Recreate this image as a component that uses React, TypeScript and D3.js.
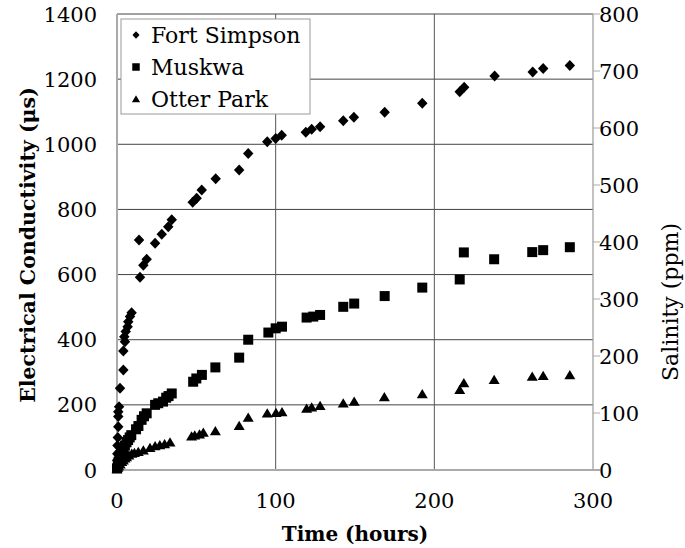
import React from "react";
import * as d3 from "d3";

// Time (hours) vs electrical conductivity (µs) for each sample
const fortSimpson: [number, number][] = [
  [0, 10], [0.1, 30], [0.2, 50], [0.3, 75], [0.5, 100], [0.8, 133], [0.8, 164], [0.8, 179],
  [1.3, 194], [1.9, 251], [4, 307], [4, 365], [5, 394], [4.6, 409], [5.5, 425], [6.7, 440],
  [7.1, 455], [8.2, 471], [9.2, 483], [13.9, 706], [14.5, 592], [16.6, 629], [18.7, 647],
  [24, 696], [28.2, 724], [32.3, 747], [34.5, 768], [47.7, 822], [50.2, 834], [53.4, 860],
  [62.2, 894], [77, 921], [82.7, 972], [94.7, 1008], [100, 1018], [103.8, 1028], [119, 1037],
  [122.7, 1046], [128, 1054], [142.6, 1072], [149.3, 1083], [168.7, 1098], [192.4, 1126],
  [216, 1161], [218.8, 1175], [238, 1210], [262, 1222], [268.6, 1233], [285.4, 1242],
];

const muskwa: [number, number][] = [
  [0, 5], [0.5, 15], [1, 25], [1.5, 35], [2, 45], [3, 55], [4, 65], [5, 75], [6, 85], [7, 92],
  [8, 100], [9, 107], [12, 125], [13.5, 135], [15.5, 154], [17, 165], [18.7, 174], [24, 200],
  [26, 205], [29, 210], [31, 222], [32.5, 227], [34.5, 235], [48, 271], [50, 281], [53.5, 292],
  [62, 315], [77, 345], [82.7, 400], [95.4, 422], [100, 435], [104, 440], [119.5, 468],
  [123.7, 471], [128, 476], [142.6, 501], [149.5, 511], [168.7, 534], [192.4, 560], [216, 585],
  [218.6, 668], [237.7, 647], [261.7, 669], [268.6, 675], [285.4, 684],
];

const otterPark: [number, number][] = [
  [0, 3], [0.5, 8], [1, 12], [2, 18], [3, 25], [4, 30], [5, 36], [6, 40], [7.5, 45], [9.3, 51],
  [11, 53], [13.4, 56], [16.6, 61], [20.8, 68], [24, 74], [27, 77], [30, 80], [33.4, 85],
  [47, 104], [49, 107], [52, 110], [54.4, 115], [62, 120], [77, 136], [82.7, 161], [94.7, 174],
  [100.2, 176], [104, 178], [119.5, 189], [122.7, 193], [128, 197], [142.6, 205], [149.5, 210],
  [168.5, 224], [192.4, 233], [216, 246], [218.6, 267], [237.7, 277], [261.7, 287],
  [268.6, 289], [285.4, 292],
];

const seriesNames = ["Fort Simpson", "Muskwa", "Otter Park"];
const xTicks = [0, 100, 200, 300];
const leftTicks = [0, 200, 400, 600, 800, 1000, 1200, 1400];
const rightTicks = [0, 100, 200, 300, 400, 500, 600, 700, 800];

const W = 685;
const H = 548;
const FONT = "'DejaVu Serif', 'Liberation Serif', serif";

type Shape = "diamond" | "square" | "triangle";

function markerPath(shape: Shape, s: number): string {
  const h = s / 2;
  if (shape === "diamond") return `M0,${-h}L${h * 0.95},0L0,${h}L${-h * 0.95},0Z`;
  if (shape === "square") return `M${-h},${-h}H${h}V${h}H${-h}Z`;
  return `M0,${-h}L${h * 1.1},${h * 0.85}H${-h * 1.1}Z`;
}

export default function App() {
  const x = d3.scaleLinear().domain([0, 300]).range([117, 593]);
  const yL = d3.scaleLinear().domain([0, 1400]).range([470, 14]);
  const yR = d3.scaleLinear().domain([0, 800]).range([470, 14]);

  const series: { name: string; data: [number, number][]; shape: Shape; size: number }[] = [
    { name: seriesNames[0], data: fortSimpson, shape: "diamond", size: 11 },
    { name: seriesNames[1], data: muskwa, shape: "square", size: 10 },
    { name: seriesNames[2], data: otterPark, shape: "triangle", size: 10 },
  ];

  const [x0, x1] = x.range();
  const yTop = yL(1400);
  const yBot = yL(0);

  return (
    <svg
      width={W}
      height={H}
      viewBox={`0 0 ${W} ${H}`}
      style={{ position: "absolute", left: 0, top: 0, background: "#fff" }}
      fontFamily={FONT}
    >
      <rect x={0} y={0} width={W} height={H} fill="#fff" />

      {/* horizontal gridlines */}
      {leftTicks.filter((t) => t > 0).map((t) => (
        <line key={`hg${t}`} x1={x0} x2={x1} y1={yL(t)} y2={yL(t)} stroke="#444" strokeWidth={1} />
      ))}
      {/* vertical gridlines */}
      {xTicks.filter((t) => t > 0 && t < 300).map((t) => (
        <line key={`vg${t}`} x1={x(t)} x2={x(t)} y1={yTop} y2={yBot} stroke="#555" strokeWidth={1} />
      ))}

      {/* right axis with outward ticks */}
      <line x1={x1} x2={x1} y1={yTop} y2={yBot} stroke="#999" strokeWidth={1.2} />
      {rightTicks.map((t) => (
        <line key={`rt${t}`} x1={x1} x2={x1 + 7} y1={yR(t)} y2={yR(t)} stroke="#aaa" strokeWidth={1} />
      ))}
      {/* left and bottom axes */}
      <line x1={x0} x2={x0} y1={yTop} y2={yBot} stroke="#aaa" strokeWidth={2} />
      <line x1={x0} x2={x1 + 7} y1={yBot} y2={yBot} stroke="#aaa" strokeWidth={2} />

      {/* tick labels */}
      {leftTicks.map((t) => (
        <text key={`lt${t}`} x={97} y={yL(t)} dy="0.36em" textAnchor="end" fontSize={21} fill="#000">
          {t}
        </text>
      ))}
      {rightTicks.map((t) => (
        <text key={`rl${t}`} x={599} y={yR(t)} dy="0.36em" textAnchor="start" fontSize={21} fill="#000">
          {t}
        </text>
      ))}
      {xTicks.map((t) => (
        <text key={`xt${t}`} x={x(t)} y={500} dy="0.36em" textAnchor="middle" fontSize={21} fill="#000">
          {t}
        </text>
      ))}

      {/* axis titles */}
      <text x={355} y={534} dy="0.36em" textAnchor="middle" fontSize={20} fontWeight="bold" fill="#000">
        Time (hours)
      </text>
      <text
        transform={`translate(28,${(yTop + yBot) / 2 + 3}) rotate(-90)`}
        dy="0.36em"
        textAnchor="middle"
        fontSize={20.5}
        fontWeight="bold"
        fill="#000"
      >
        Electrical Conductivity (μs)
      </text>
      <text
        transform={`translate(670,${(yTop + yBot) / 2 + 60}) rotate(-90)`}
        dy="0.36em"
        textAnchor="middle"
        fontSize={22}
        fill="#000"
      >
        Salinity (ppm)
      </text>

      {/* data markers */}
      {series.map((s) => (
        <g key={s.name}>
          {s.data.map(([t, v], i) => (
            <path
              key={i}
              d={markerPath(s.shape, s.size)}
              transform={`translate(${x(t)},${yL(v)})`}
              fill="#000"
            />
          ))}
        </g>
      ))}

      {/* legend */}
      <g>
        <rect x={121} y={19} width={189} height={95} fill="#fff" stroke="#999" strokeWidth={1} />
        {series.map((s, i) => (
          <g key={s.name} transform={`translate(0,${35 + i * 32})`}>
            <path d={markerPath(s.shape, 7.5)} transform="translate(136,0)" fill="#000" />
            <text x={151} y={0} dy="0.36em" fontSize={22} fill="#000">
              {s.name}
            </text>
          </g>
        ))}
      </g>
    </svg>
  );
}
